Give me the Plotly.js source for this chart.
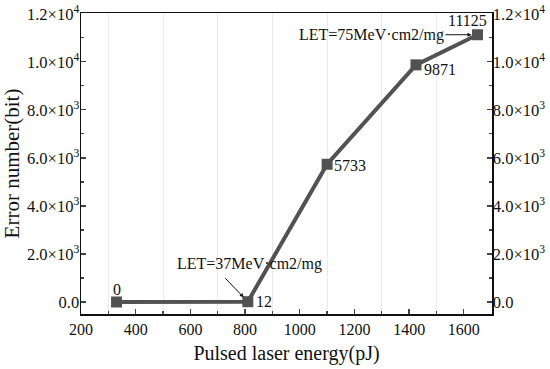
<!DOCTYPE html>
<html><head><meta charset="utf-8">
<script src="https://cdn.plot.ly/plotly-3.0.1.min.js"></script>
<style>html,body{margin:0;padding:0;background:#fff;}#c{width:550px;height:369px;}</style>
</head><body><div id="c"></div>
<script>
const energy = [330, 810, 1100, 1425, 1650];
const errors = [0, 12, 5733, 9871, 11125];
const pointLabels = ['0', '12', '5733', '9871', '11125'];
const yTickVals = [0, 2000, 4000, 6000, 8000, 10000, 12000];
const yTickText = ['0.0', '2.0×10<sup>3</sup>', '4.0×10<sup>3</sup>', '6.0×10<sup>3</sup>', '8.0×10<sup>3</sup>', '1.0×10<sup>4</sup>', '1.2×10<sup>4</sup>'];
const xTickVals = [200, 400, 600, 800, 1000, 1200, 1400, 1600];

const font = 'Liberation Serif';
const col = '#525252';

const trace = {
  x: energy, y: errors, type: 'scatter', mode: 'lines+markers',
  line: {color: col, width: 4},
  marker: {symbol: 'square', size: 11, color: col},
  hoverinfo: 'none', showlegend: false
};
const dummy = {x: energy, y: errors, yaxis: 'y2', type: 'scatter', mode: 'none', showlegend: false, hoverinfo: 'none'};

const labelOffsets = [[0, -12, 'center'], [6, 0, 'left'], [5, 1, 'left'], [6, 5, 'left'], [-10, -14, 'center']];
const annotations = pointLabels.map((t, i) => ({
  x: energy[i], y: errors[i], text: t, showarrow: false,
  xanchor: labelOffsets[i][2], yanchor: 'middle',
  xshift: labelOffsets[i][0], yshift: -labelOffsets[i][1],
  font: {family: font, size: 16, color: '#111'}
}));
annotations.push({
  x: energy[1], y: errors[1], text: 'LET=37MeV·cm2/mg', showarrow: false,
  xanchor: 'center', yanchor: 'middle', yshift: 38, xshift: 2,
  font: {family: font, size: 16, color: '#111'}
});
annotations.push({
  x: energy[1], y: errors[1], text: '', showarrow: true,
  ax: -24, ay: -25, standoff: 6, arrowhead: 2, arrowsize: 0.8, arrowwidth: 1, arrowcolor: '#111'
});
annotations.push({
  x: energy[4], y: errors[4], text: 'LET=75MeV·cm2/mg', showarrow: true,
  ax: -106, ay: 0, standoff: 6, arrowhead: 2, arrowsize: 0.8, arrowwidth: 1, arrowcolor: '#111',
  font: {family: font, size: 16, color: '#111'}
});

const layout = {
  width: 550, height: 369,
  margin: {l: 81, r: 58, t: 13, b: 55},
  paper_bgcolor: '#fff', plot_bgcolor: '#fff',
  font: {family: font, color: '#111'},
  xaxis: {
    range: [200, 1703], tickvals: xTickVals, ticks: 'inside', ticklen: 5, tickwidth: 1.3,
    showgrid: false, zeroline: false, showline: true, linecolor: '#111', linewidth: 1.5,
    mirror: true,
    tickfont: {family: font, size: 16, color: '#111'},
    title: {text: 'Pulsed laser energy(pJ)', font: {family: font, size: 20, color: '#111'}, standoff: 9},
    minor: {tickvals: [300, 500, 700, 900, 1100, 1300, 1500, 1700], ticks: 'inside', ticklen: 3, showgrid: true, gridcolor: '#ebebeb', gridwidth: 1}
  },
  yaxis: {
    range: [-500, 12030], tickvals: yTickVals, ticktext: yTickText, ticks: 'inside', ticklen: 5, tickwidth: 1.3,
    showgrid: false, zeroline: false, showline: true, linecolor: '#111', linewidth: 1.5,
    ticklabelstandoff: -3,
    tickfont: {family: font, size: 16.5, color: '#111'},
    title: {text: 'Error number(bit)', font: {family: font, size: 21, color: '#111'}, standoff: 6},
    minor: {dtick: 1000, tick0: 1000, ticks: 'inside', ticklen: 3, showgrid: false}
  },
  yaxis2: {
    overlaying: 'y', side: 'right', matches: 'y', range: [-500, 12030], tickvals: yTickVals, ticktext: yTickText,
    ticks: 'inside', ticklen: 5, tickwidth: 1.3, showgrid: false, zeroline: false, showline: true,
    linecolor: '#111', linewidth: 1.5, ticklabelstandoff: -4,
    tickfont: {family: font, size: 16.5, color: '#111'},
    minor: {dtick: 1000, tick0: 1000, ticks: 'inside', ticklen: 3, showgrid: false}
  },
  annotations: annotations
};
Plotly.newPlot('c', [dummy, trace], layout, {staticPlot: true});
</script></body></html>
